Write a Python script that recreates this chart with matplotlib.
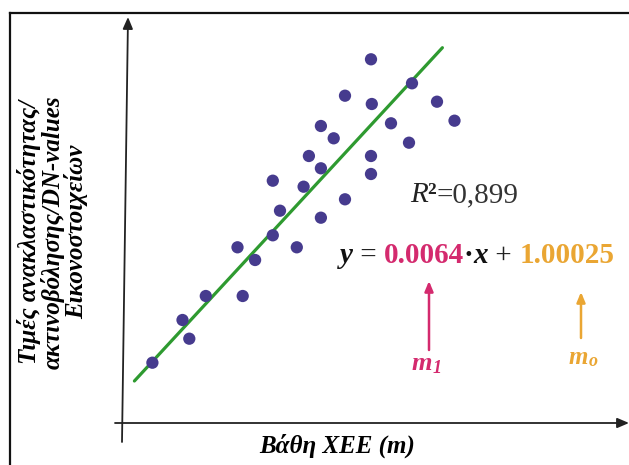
import matplotlib.pyplot as plt
import matplotlib.transforms as mtransforms
from matplotlib.lines import Line2D

plt.rcParams['font.family'] = ['Liberation Serif', 'DejaVu Serif']

# Scatter data (arbitrary units)
depth = [3.04, 6.05, 6.73, 8.38, 11.55, 12.07, 13.31, 15.08, 15.08, 15.8,
         17.48, 18.16, 18.69, 19.89, 19.89, 19.89, 21.17, 22.3, 22.3, 24.9,
         24.9, 24.9, 24.98, 26.9, 28.7, 29.0, 31.5, 33.25]
dn_values = [6.03, 10.3, 8.43, 12.7, 17.57, 12.7, 16.3, 24.23, 18.77, 21.23,
             17.57, 23.63, 26.7, 29.7, 25.47, 20.53, 28.47, 32.73, 22.37, 36.37,
             26.7, 24.9, 31.9, 29.97, 28.03, 33.97, 32.13, 30.23]

# Regression line end points
fit_x = [1.24, 32.04]
fit_y = [4.2, 37.53]

ylabel_text = 'Τιμές ανακλαστικότητας/\nακτινοβόλησης/DN-values\nΕικονοστοιχείων'
xlabel_text = 'Βάθη ΧΕΕ (m)'
r2_value = '0,899'
slope_text = '0.0064'
intercept_text = '1.00025'

pink = '#d42a6e'
gold = '#eaa633'
dot_color = '#463b8e'
line_color = '#2e9a30'

fig = plt.figure(figsize=(6.29, 4.65), dpi=100)
ax = fig.add_axes([0, 0, 1, 1])
ax.set_xlim(-12.2, 50.7)
ax.set_ylim(-4.2, 42.3)
ax.axis('off')

# Outer frame (top and left edges only visible)
fig.add_artist(Line2D([10 / 629, 1], [1 - 13.5 / 465] * 2, color='#111111', lw=1.6))
fig.add_artist(Line2D([10 / 629] * 2, [0, 1 - 13.5 / 465], color='#111111', lw=1.6))

# Axes with arrows
arrow_kw = dict(arrowstyle='-|>,head_length=0.7,head_width=0.3', color='#222222', lw=1.3,
                shrinkA=0, shrinkB=0)
ax.annotate('', xy=(0.6, 40.6), xytext=(0.0, -1.9), arrowprops=arrow_kw)
ax.annotate('', xy=(50.7, 0.0), xytext=(-0.7, 0.0), arrowprops=arrow_kw)

# Fit line and points
ax.plot(fit_x, fit_y, color=line_color, lw=2.3, solid_capstyle='round', zorder=2)
ax.scatter(depth, dn_values, s=78, color=dot_color, edgecolors='none', zorder=3)

# Axis labels
ax.text(-6.9, 19.1, ylabel_text, rotation=90, ha='center', va='center',
        multialignment='center', fontsize=18, fontstyle='italic', fontweight='bold',
        linespacing=0.98)
ax.text(21.5, -2.3, xlabel_text, ha='center', va='center', fontsize=18,
        fontstyle='italic', fontweight='bold')

renderer = fig.canvas.get_renderer()


def draw_pieces(x0, y0, pieces):
    # place text pieces one after another in pixel coordinates
    x = x0
    for txt, color, size, style, weight, dy in pieces:
        t = fig.text(x, y0 + dy, txt, color=color, fontsize=size, fontstyle=style,
                     fontweight=weight, ha='left', va='baseline',
                     transform=mtransforms.IdentityTransform())
        x = t.get_window_extent(renderer).x1


# R^2 annotation
draw_pieces(410, 465 - 202, [
    ('R', '#222222', 21, 'italic', 'normal', 0),
    ('²', '#222222', 21, 'normal', 'bold', 0),
    ('=' + r2_value, '#333333', 21, 'normal', 'normal', 0),
])

# Regression equation
draw_pieces(340, 465 - 263, [
    ('y', '#111111', 21, 'italic', 'bold', 0),
    (' = ', '#222222', 21, 'normal', 'normal', 0),
    (slope_text, pink, 21, 'normal', 'bold', 0),
    ('·', '#111111', 21, 'normal', 'bold', 0),
    ('x', '#111111', 21, 'italic', 'bold', 0),
    (' + ', '#222222', 21, 'normal', 'normal', 0),
    (intercept_text, gold, 21, 'normal', 'bold', 0),
])

# Coefficient arrows
ax.annotate('', xy=(30.7, 14.2), xytext=(30.7, 7.3),
            arrowprops=dict(arrowstyle='-|>,head_length=0.6,head_width=0.25',
                            color=pink, lw=1.8, shrinkA=0, shrinkB=0))
ax.annotate('', xy=(45.9, 13.1), xytext=(45.9, 8.5),
            arrowprops=dict(arrowstyle='-|>,head_length=0.6,head_width=0.25',
                            color=gold, lw=1.8, shrinkA=0, shrinkB=0))

draw_pieces(412, 465 - 370, [
    ('m', pink, 19, 'italic', 'bold', 0),
    ('1', pink, 13, 'italic', 'bold', -3),
])
draw_pieces(569, 465 - 364, [
    ('m', gold, 18, 'italic', 'bold', 0),
    ('o', gold, 13, 'italic', 'bold', -2),
])

fig.savefig('out.png', dpi=100)
